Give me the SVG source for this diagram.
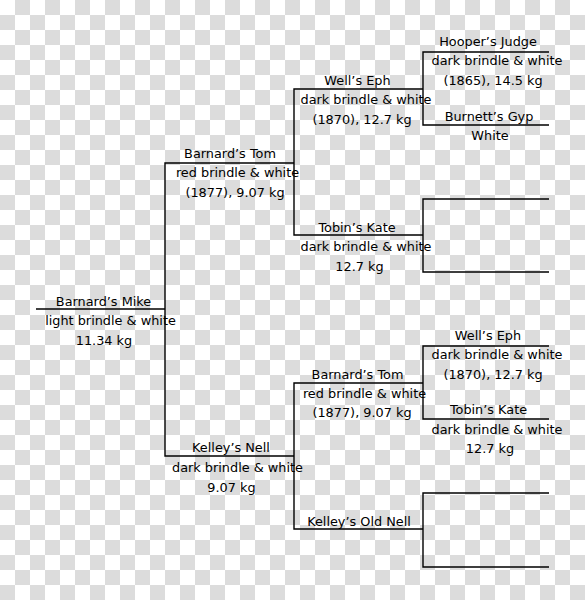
<svg xmlns="http://www.w3.org/2000/svg" width="585" height="600" viewBox="0 0 585 600">
<defs>
<pattern id="checker" x="0" y="0" width="30" height="30" patternUnits="userSpaceOnUse">
<rect width="30" height="30" fill="#ffffff"/>
<rect x="15" y="0" width="15" height="15" fill="#dcdcdc"/>
<rect x="0" y="15" width="15" height="15" fill="#dcdcdc"/>
</pattern>
</defs>
<style>
text{font-family:"DejaVu Sans","Liberation Sans",sans-serif;font-size:12.85px;fill:#000;text-anchor:middle}
.c path{fill:none;stroke:#000;stroke-width:1.4}
</style>
<rect width="585" height="600" fill="url(#checker)"/>
<g id="connectors" class="c">
<path d="M36,309H165"/>
<path d="M294,163H165V456H294"/>
<path d="M423,89H294V235H423"/>
<path d="M549,52H423V125H549"/>
<path d="M549,199H423V272H549"/>
<path d="M423,383H294V529H423"/>
<path d="M549,346H423V419H549"/>
<path d="M549,493H423V567H549"/>
</g>
<g id="barnards-mike">
<text x="103.5" y="306">Barnard’s Mike</text>
<text x="110.5" y="325">light brindle &amp; white</text>
<text x="104" y="345">11.34 kg</text>
</g>
<g id="barnards-tom">
<text x="230" y="158">Barnard’s Tom</text>
<text x="237.5" y="177">red brindle &amp; white</text>
<text x="235" y="197">(1877), 9.07 kg</text>
</g>
<g id="kelleys-nell">
<text x="231" y="452">Kelley’s Nell</text>
<text x="237.5" y="472">dark brindle &amp; white</text>
<text x="231.5" y="492">9.07 kg</text>
</g>
<g id="wells-eph-1">
<text x="357.5" y="85">Well’s Eph</text>
<text x="366" y="104">dark brindle &amp; white</text>
<text x="362" y="124">(1870), 12.7 kg</text>
</g>
<g id="tobins-kate-1">
<text x="357" y="232">Tobin’s Kate</text>
<text x="366" y="251">dark brindle &amp; white</text>
<text x="359.5" y="271">12.7 kg</text>
</g>
<g id="barnards-tom-2">
<text x="357.5" y="379">Barnard’s Tom</text>
<text x="364.5" y="398">red brindle &amp; white</text>
<text x="362" y="417">(1877), 9.07 kg</text>
</g>
<g id="kelleys-old-nell">
<text x="359" y="526">Kelley’s Old Nell</text>
</g>
<g id="hoopers-judge">
<text x="488" y="46">Hooper’s Judge</text>
<text x="497" y="65">dark brindle &amp; white</text>
<text x="493" y="85">(1865), 14.5 kg</text>
</g>
<g id="burnetts-gyp">
<text x="489" y="121">Burnett’s Gyp</text>
<text x="490" y="140">White</text>
</g>
<g id="wells-eph-2">
<text x="488" y="340">Well’s Eph</text>
<text x="497" y="359">dark brindle &amp; white</text>
<text x="493" y="379">(1870), 12.7 kg</text>
</g>
<g id="tobins-kate-2">
<text x="488.5" y="414">Tobin’s Kate</text>
<text x="497" y="433.5">dark brindle &amp; white</text>
<text x="490" y="453">12.7 kg</text>
</g>
</svg>
